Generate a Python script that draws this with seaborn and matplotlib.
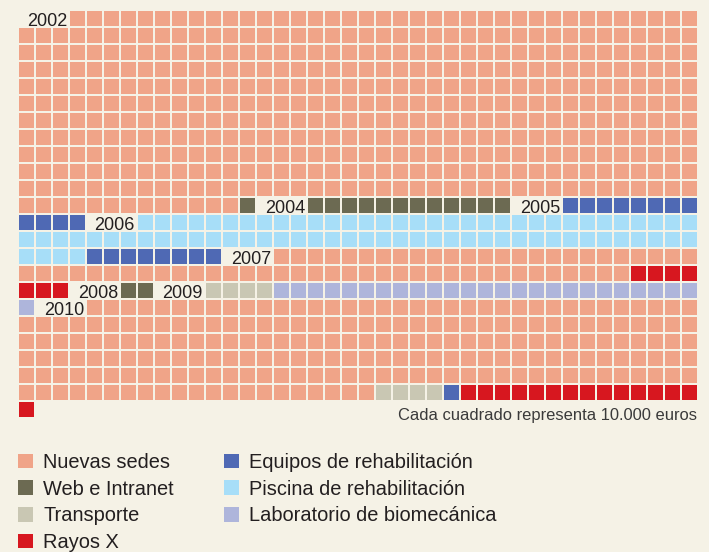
import numpy as np
import matplotlib
matplotlib.use('Agg')
import matplotlib.pyplot as plt
import seaborn as sns
from matplotlib.colors import ListedColormap
from matplotlib.patches import Patch

# Categories of spending and their colours
categories = ['Nuevas sedes', 'Web e Intranet', 'Transporte', 'Rayos X',
              'Equipos de rehabilitación', 'Piscina de rehabilitación',
              'Laboratorio de biomecánica']
cat_colors = ['#F0A488', '#6C6A52', '#C9C7B3', '#D7171F',
              '#4F69B4', '#A7DEF8', '#AEB5DB']

# Reading order of the waffle: a year label, or a category with its number of squares
seq_items = ['2002', 'Nuevas sedes', 'Web e Intranet', '2004', 'Web e Intranet',
             '2005', 'Equipos de rehabilitación', '2006', 'Piscina de rehabilitación',
             'Equipos de rehabilitación', '2007', 'Nuevas sedes', 'Rayos X',
             '2008', 'Web e Intranet', '2009', 'Transporte',
             'Laboratorio de biomecánica', '2010', 'Nuevas sedes', 'Transporte',
             'Equipos de rehabilitación', 'Rayos X']
seq_squares = [0, 450, 1, 0, 12, 0, 12, 0, 77, 8, 0, 61, 7, 0, 2, 0, 4, 26, 0, 217, 4, 1, 15]

note = 'Cada cuadrado representa 10.000 euros'

bg = '#F5F2E6'
text_color = '#231F20'
n_cols = 40
label_cells = 3

plt.rcParams['font.family'] = ['Liberation Sans', 'DejaVu Sans']

# Lay the squares out row by row, leaving gaps where the year labels go
codes = []
year_pos = []
for item, n in zip(seq_items, seq_squares):
    if item in categories:
        codes.extend([categories.index(item)] * n)
    else:
        year_pos.append((item, len(codes)))
        codes.extend([np.nan] * label_cells)
n_rows = int(np.ceil(len(codes) / n_cols))
codes.extend([np.nan] * (n_rows * n_cols - len(codes)))
grid = np.array(codes, dtype=float).reshape(n_rows, n_cols)

fig = plt.figure(figsize=(7.09, 5.52), dpi=100, facecolor=bg)
ax = fig.add_axes([18 / 709, 1 - 418 / 552, 680 / 709, 408 / 552])
ax.set_facecolor(bg)

sns.heatmap(grid, ax=ax, cmap=ListedColormap(cat_colors), vmin=-0.5, vmax=6.5,
            cbar=False, linewidths=1.1, linecolor=bg,
            xticklabels=False, yticklabels=False)

# Year labels sit in the gaps
for year, pos in year_pos:
    r, c = divmod(pos, n_cols)
    ax.text(c + label_cells - 0.12, r + 0.93, year, ha='right', va='baseline',
            fontsize=13, color=text_color, clip_on=False)

ax.text(39.94, 24.12, note, ha='right', va='baseline', fontsize=11.9,
        color='#3A3A3A', clip_on=False)

handles = [Patch(facecolor=c, edgecolor='none') for c in cat_colors]
leg = fig.legend(handles, categories, ncol=2, loc='upper left',
                 bbox_to_anchor=(18 / 709, 1 - 453 / 552), frameon=False,
                 fontsize=14.4, handlelength=0.75, handleheight=0.75,
                 handletextpad=0.5, columnspacing=2.5, labelspacing=0.38,
                 borderpad=0, borderaxespad=0)
for t in leg.get_texts():
    t.set_color(text_color)

fig.savefig('out.png', dpi=100, facecolor=bg)
